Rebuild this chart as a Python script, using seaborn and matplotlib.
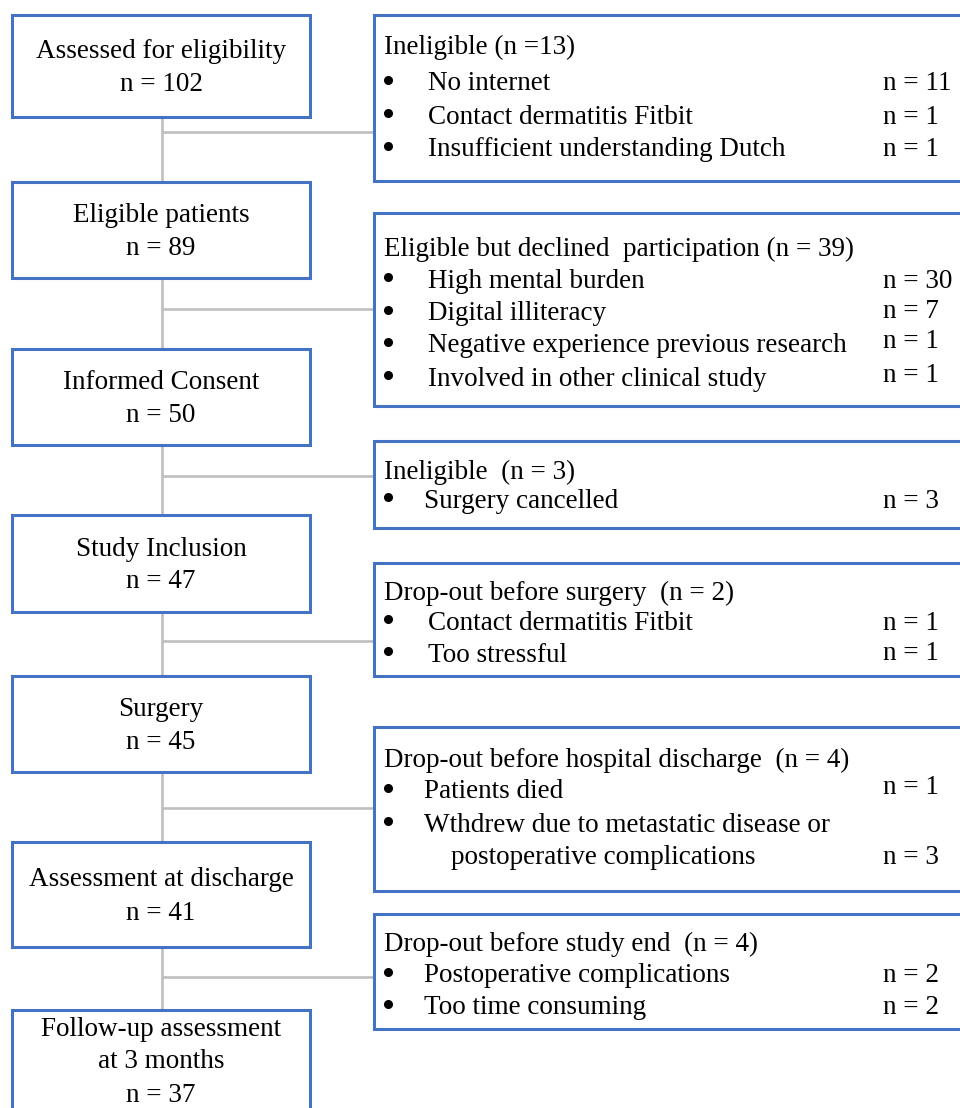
import matplotlib
matplotlib.use("Agg")
import matplotlib.pyplot as plt
from matplotlib.patches import Rectangle
import seaborn as sns

# ---------------- data ----------------
stage_names = ["Assessed for eligibility", "Eligible patients", "Informed Consent",
               "Study Inclusion", "Surgery", "Assessment at discharge",
               "Follow-up assessment\nat 3 months"]
stage_n = [102, 89, 50, 47, 45, 41, 37]

exit_titles = ["Ineligible (n =13)",
               "Eligible but declined  participation (n = 39)",
               "Ineligible  (n = 3)",
               "Drop-out before surgery  (n = 2)",
               "Drop-out before hospital discharge  (n = 4)",
               "Drop-out before study end  (n = 4)"]
exit_reasons = [["No internet", "Contact dermatitis Fitbit", "Insufficient understanding Dutch"],
                ["High mental burden", "Digital illiteracy",
                 "Negative experience previous research", "Involved in other clinical study"],
                ["Surgery cancelled"],
                ["Contact dermatitis Fitbit", "Too stressful"],
                ["Patients died", "Wthdrew due to metastatic disease or\npostoperative complications"],
                ["Postoperative complications", "Too time consuming"]]
exit_counts = [[11, 1, 1], [30, 7, 1, 1], [3], [1, 1], [1, 3], [2, 2]]

# ---------------- layout (pixels) ----------------
W, H = 960, 1108
left_x0, left_x1 = 12, 310
left_top = [15, 182, 349, 515, 676, 842, 1010]
left_bot = [117, 278, 445, 612, 772, 947, 1113]
right_x0, right_x1 = 374, 966
right_top = [15, 213, 441, 563, 727, 914]
right_bot = [181, 406, 528, 676, 891, 1029]
branch_y = [132, 309, 476, 641, 808, 977]
stem_x = 162
title_y = [45, 247, 470, 591, 758, 942]
item_y = [[82, 115, 148], [279, 312, 344, 377], [499], [621, 653], [790, 823], [974, 1006]]
count_dy = [[0, 0, 0], [0, -2, -4, -4], [0, 0], [0, -2], [-5, 33], [0, 0]]
text_x = [428, 428, 424, 428, 424, 424]
bullet_x = 388
count_x = 883
line_step = 33
tdy = 2      # small optical offset for text centring
bdy = -2     # bullet offset

blue = "#4472C4"
grey = "#BFBFBF"

sns.set_theme(style="white")
plt.rcParams['font.family'] = ['Liberation Serif', 'DejaVu Serif']
plt.rcParams['text.color'] = 'black'
FS = 19.5

fig = plt.figure(figsize=(W / 100, H / 100), dpi=100)
ax = fig.add_axes([0, 0, 1, 1])
ax.set_xlim(0, W)
ax.set_ylim(H, 0)
ax.axis("off")

# connectors
for i in range(len(left_top) - 1):
    ax.plot([stem_x, stem_x], [left_bot[i], left_top[i + 1]], color=grey, lw=1.9,
            solid_capstyle="butt", zorder=1)
for y in branch_y:
    ax.plot([stem_x, right_x0], [y, y], color=grey, lw=1.9, solid_capstyle="butt", zorder=1)

# left boxes
for i, (name, n) in enumerate(zip(stage_names, stage_n)):
    ax.add_patch(Rectangle((left_x0, left_top[i]), left_x1 - left_x0, left_bot[i] - left_top[i],
                           facecolor="white", edgecolor=blue, lw=2.2, zorder=2))
    lines = name.split("\n") + [f"n = {n}"]
    cy = (left_top[i] + left_bot[i]) / 2 if i < len(stage_names) - 1 else 1060
    y0 = cy - (len(lines) - 1) * line_step / 2
    for k, t in enumerate(lines):
        ax.text((left_x0 + left_x1) / 2, y0 + k * line_step + tdy, t, ha="center", va="center",
                fontsize=FS, color="black", zorder=3)

# right boxes
for j, title in enumerate(exit_titles):
    ax.add_patch(Rectangle((right_x0, right_top[j]), right_x1 - right_x0, right_bot[j] - right_top[j],
                           facecolor="white", edgecolor=blue, lw=2.2, zorder=2))
    ax.text(right_x0 + 10, title_y[j] + tdy, title, ha="left", va="center", fontsize=FS,
            color="black", zorder=3)
    for k, (reason, cnt) in enumerate(zip(exit_reasons[j], exit_counts[j])):
        y = item_y[j][k]
        ax.plot([bullet_x], [y + bdy], marker="o", markersize=5.5, color="black", zorder=3)
        parts = reason.split("\n")
        for p, part in enumerate(parts):
            ax.text(text_x[j] + (27 if p > 0 else 0), y + p * line_step + tdy, part,
                    ha="left", va="center", fontsize=FS, color="black", zorder=3)
        ax.text(count_x, y + count_dy[j][k] + tdy, f"n = {cnt}", ha="left", va="center",
                fontsize=FS, color="black", zorder=3)

fig.savefig("out.png", dpi=100, facecolor="white")
